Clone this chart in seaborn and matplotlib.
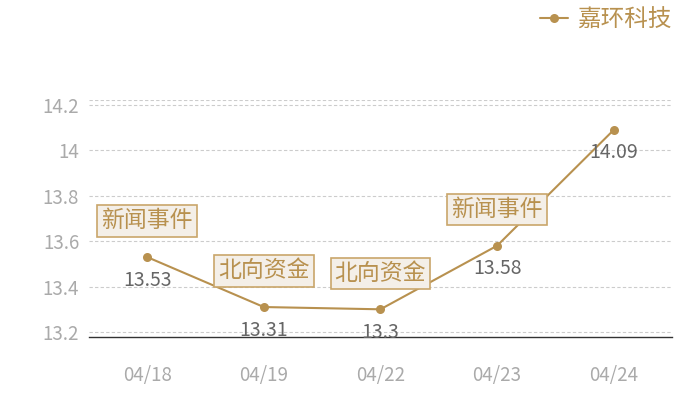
import matplotlib
matplotlib.use("Agg")
import matplotlib.pyplot as plt
import seaborn as sns
import pandas as pd

# data
dates = ["04/18", "04/19", "04/22", "04/23", "04/24"]
prices = [13.53, 13.31, 13.3, 13.58, 14.09]
events = ["新闻事件", "北向资金", "北向资金", "新闻事件", None]
yticks = [13.2, 13.4, 13.6, 13.8, 14.0, 14.2]
ytick_labels = ["13.2", "13.4", "13.6", "13.8", "14", "14.2"]

gold = "#b8914f"
df = pd.DataFrame({"date": dates, "price": prices, "stock": "嘉环科技"})

sns.set_style("white")
plt.rcParams["font.family"] = ["Noto Sans CJK SC", "DejaVu Sans"]

fig = plt.figure(figsize=(7, 4), dpi=100)
ax = fig.add_axes([0.127, 0.1575, 0.833, 0.5925])

sns.lineplot(data=df, x="date", y="price", hue="stock", palette=[gold],
             marker="o", markersize=6.5, markeredgewidth=0, linewidth=1.5,
             sort=False, ax=ax)

ax.set_xlim(-0.5, 4.5)
ax.set_ylim(13.178, 14.222)
ax.set_yticks(yticks)
ax.set_yticklabels(ytick_labels)
for y in yticks + [14.222]:
    ax.axhline(y, color="#cccccc", lw=0.8, ls=(0, (3, 2)), zorder=0)

for s in ["top", "right", "left"]:
    ax.spines[s].set_visible(False)
ax.spines["bottom"].set_color("#333333")
ax.spines["bottom"].set_linewidth(1)
ax.tick_params(axis="both", length=0, colors="#aaaaaa")
ax.tick_params(axis="y", labelsize=13.5, pad=7)
ax.tick_params(axis="x", labelsize=13.5, pad=20)
ax.set_xlabel("")
ax.set_ylabel("")

# value labels below points
for i, v in enumerate(prices):
    ax.annotate(f"{v:g}", (i, v), xytext=(0, -9), textcoords="offset points",
                ha="center", va="top", fontsize=14, color="#666666")

# event boxes
for i, ev in enumerate(events):
    if ev is None:
        continue
    ax.annotate(ev, (i, prices[i]), xytext=(0, 26), textcoords="offset points",
                ha="center", va="center", fontsize=16.5, color=gold,
                bbox=dict(boxstyle="square,pad=0.18", fc="#f4efe8", ec="#c9a66b", lw=1.2))

leg = ax.legend(loc="center right", bbox_to_anchor=(1.02, 1.337), frameon=False,
                fontsize=17, handlelength=1.2, handletextpad=0.4, borderpad=0)
for t in leg.get_texts():
    t.set_color(gold)

fig.savefig("out.png", dpi=100)
